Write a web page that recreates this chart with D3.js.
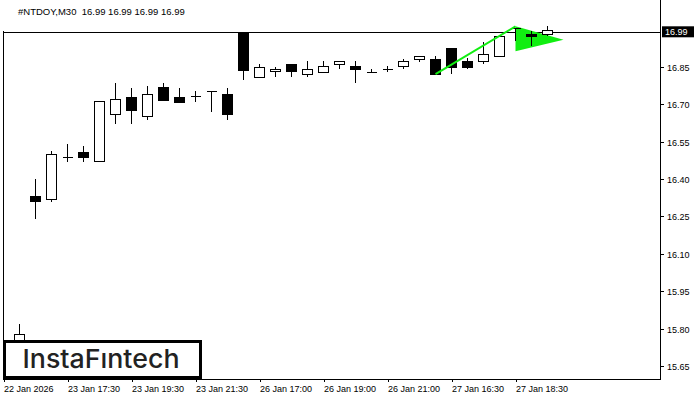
<!DOCTYPE html>
<html><head><meta charset="utf-8">
<script src="https://cdn.jsdelivr.net/npm/d3@7"></script>
<style>html,body{margin:0;padding:0;background:#fff;}svg{display:block;}</style>
</head><body>
<svg id="c" width="700" height="400"></svg>
<script>
const opens  = [15.75,16.33,16.32,16.49,16.51,16.47,16.66,16.73,16.65,16.77,16.73,16.73,16.75,16.74,16.99,16.81,16.83,16.86,16.82,16.83,16.86,16.853,16.83,16.84,16.853,16.882,16.881,16.925,16.873,16.87,16.89,17.005,16.982,16.981];
const highs  = [15.82,16.40,16.512,16.54,16.531,16.712,16.785,16.765,16.773,16.785,16.765,16.753,16.751,16.765,16.99,16.861,16.85,16.861,16.872,16.872,16.872,16.872,16.84,16.851,16.881,16.893,16.892,16.925,16.884,16.95,16.975,17.005,16.992,17.012];
const lows   = [15.74,16.238,16.309,16.469,16.469,16.469,16.622,16.622,16.638,16.718,16.71,16.71,16.67,16.638,16.797,16.81,16.81,16.81,16.81,16.83,16.84,16.783,16.83,16.83,16.84,16.87,16.82,16.82,16.84,16.86,16.89,16.953,16.932,16.972];
const closes = [15.78,16.31,16.499,16.49,16.489,16.712,16.719,16.678,16.739,16.718,16.71,16.731,16.751,16.658,16.837,16.85,16.84,16.83,16.84,16.853,16.872,16.84,16.83,16.84,16.872,16.893,16.82,16.85,16.85,16.90,16.972,17.005,16.972,16.998];
const xTickBars   = [-1,3,7,11,15,19,23,27,31];
const xTickLabels = ["22 Jan 2026","23 Jan 17:30","23 Jan 19:30","23 Jan 21:30","26 Jan 17:00","26 Jan 19:00","26 Jan 21:00","27 Jan 16:30","27 Jan 18:30"];
const yTicks = [15.65,15.80,15.95,16.10,16.25,16.40,16.55,16.70,16.85];
const lastPrice = 16.99;
const title = "#NTDOY,M30  16.99 16.99 16.99 16.99";
const flagPole = [[26,16.82],[31,17.012]];
const flagTri  = [[31,17.012],[31,16.912],[34,16.958]];

const svg = d3.select("#c");
const L = 3, R = 660, B = 379, T = 31;
const x = d3.scaleLinear().domain([-1, 0]).range([3.5, 19.5]);
const y = d3.scaleLinear().domain([15.65, 16.99]).range([366.1, 31.8]);
const font = "'Liberation Sans', Arial, sans-serif";

// price line
svg.append("line").attr("x1",L).attr("x2",R).attr("y1",Math.round(y(lastPrice))+0.5).attr("y2",Math.round(y(lastPrice))+0.5)
  .attr("stroke","#000").attr("stroke-width",1).attr("shape-rendering","crispEdges");

// frame
svg.append("path").attr("d",`M${L+0.5},${T} V${B+0.5} H${R+0.5} V0`).attr("fill","none").attr("stroke","#000").attr("shape-rendering","crispEdges");

// flag triangle
svg.append("polygon").attr("points", flagTri.map(d=>[x(d[0]),y(d[1])].join(",")).join(" ")).attr("fill","#11ee11");

// candles
const idx = d3.range(opens.length);
const g = svg.append("g").attr("shape-rendering","crispEdges");
idx.forEach(i=>{
  const cx = x(i);
  g.append("line").attr("x1",cx).attr("x2",cx).attr("y1",y(highs[i])).attr("y2",y(lows[i])).attr("stroke","#000");
  const top = Math.min(y(opens[i]),y(closes[i])), bot = Math.max(y(opens[i]),y(closes[i]));
  const up = closes[i] >= opens[i];
  if (bot-top < 1) {
    g.append("line").attr("x1",cx-5).attr("x2",cx+5).attr("y1",Math.round(top)+0.5).attr("y2",Math.round(top)+0.5).attr("stroke","#000");
  } else {
    g.append("rect").attr("x",cx-5).attr("y",Math.round(top)+0.5).attr("width",10).attr("height",Math.max(1,Math.round(bot-top)))
      .attr("fill", up ? "#fff" : "#000").attr("stroke","#000");
  }
});

// flag pole
svg.append("line").attr("x1",x(flagPole[0][0])).attr("y1",y(flagPole[0][1])).attr("x2",x(flagPole[1][0])).attr("y2",y(flagPole[1][1]))
  .attr("stroke","#11ee11").attr("stroke-width",2);

// y axis
const ya = svg.append("g");
yTicks.forEach(v=>{
  const yy = Math.round(y(v))+0.5;
  ya.append("line").attr("x1",R).attr("x2",R+4).attr("y1",yy).attr("y2",yy).attr("stroke","#000").attr("shape-rendering","crispEdges");
  ya.append("text").attr("x",667).attr("y",yy+3.5).attr("font-family",font).attr("font-size",9).attr("fill","#000").text(v.toFixed(2));
});
const py = y(lastPrice);
ya.append("rect").attr("x",662).attr("y",py-5.5).attr("width",32).attr("height",11).attr("fill","#000");
ya.append("text").attr("x",665).attr("y",py+3.5).attr("font-family",font).attr("font-size",9).attr("fill","#fff").text(lastPrice.toFixed(2));

// x axis
xTickBars.forEach((b,k)=>{
  const xx = Math.round(x(b))+0.5;
  svg.append("line").attr("x1",xx).attr("x2",xx).attr("y1",B).attr("y2",B+3).attr("stroke","#000").attr("shape-rendering","crispEdges");
  svg.append("text").attr("x",xx-0.5).attr("y",392).attr("font-family",font).attr("font-size",9).attr("fill","#000").text(xTickLabels[k]);
});

// title
svg.append("text").attr("x",18).attr("y",15).attr("font-family",font).attr("font-size",9.5).attr("fill","#000")
  .attr("xml:space","preserve").style("white-space","pre").text(title);

// logo
svg.append("rect").attr("x",4.5).attr("y",341.5).attr("width",196).attr("height",36).attr("fill","#fff").attr("stroke","#000").attr("stroke-width",3);
svg.append("text").attr("x",22.5).attr("y",368.3).attr("font-family","Inter, 'Open Sans', sans-serif").attr("font-weight",500)
  .attr("font-size",26).attr("fill","#222").attr("textLength",157).attr("lengthAdjust","spacingAndGlyphs").text("InstaFıntech");
</script>
</body></html>
